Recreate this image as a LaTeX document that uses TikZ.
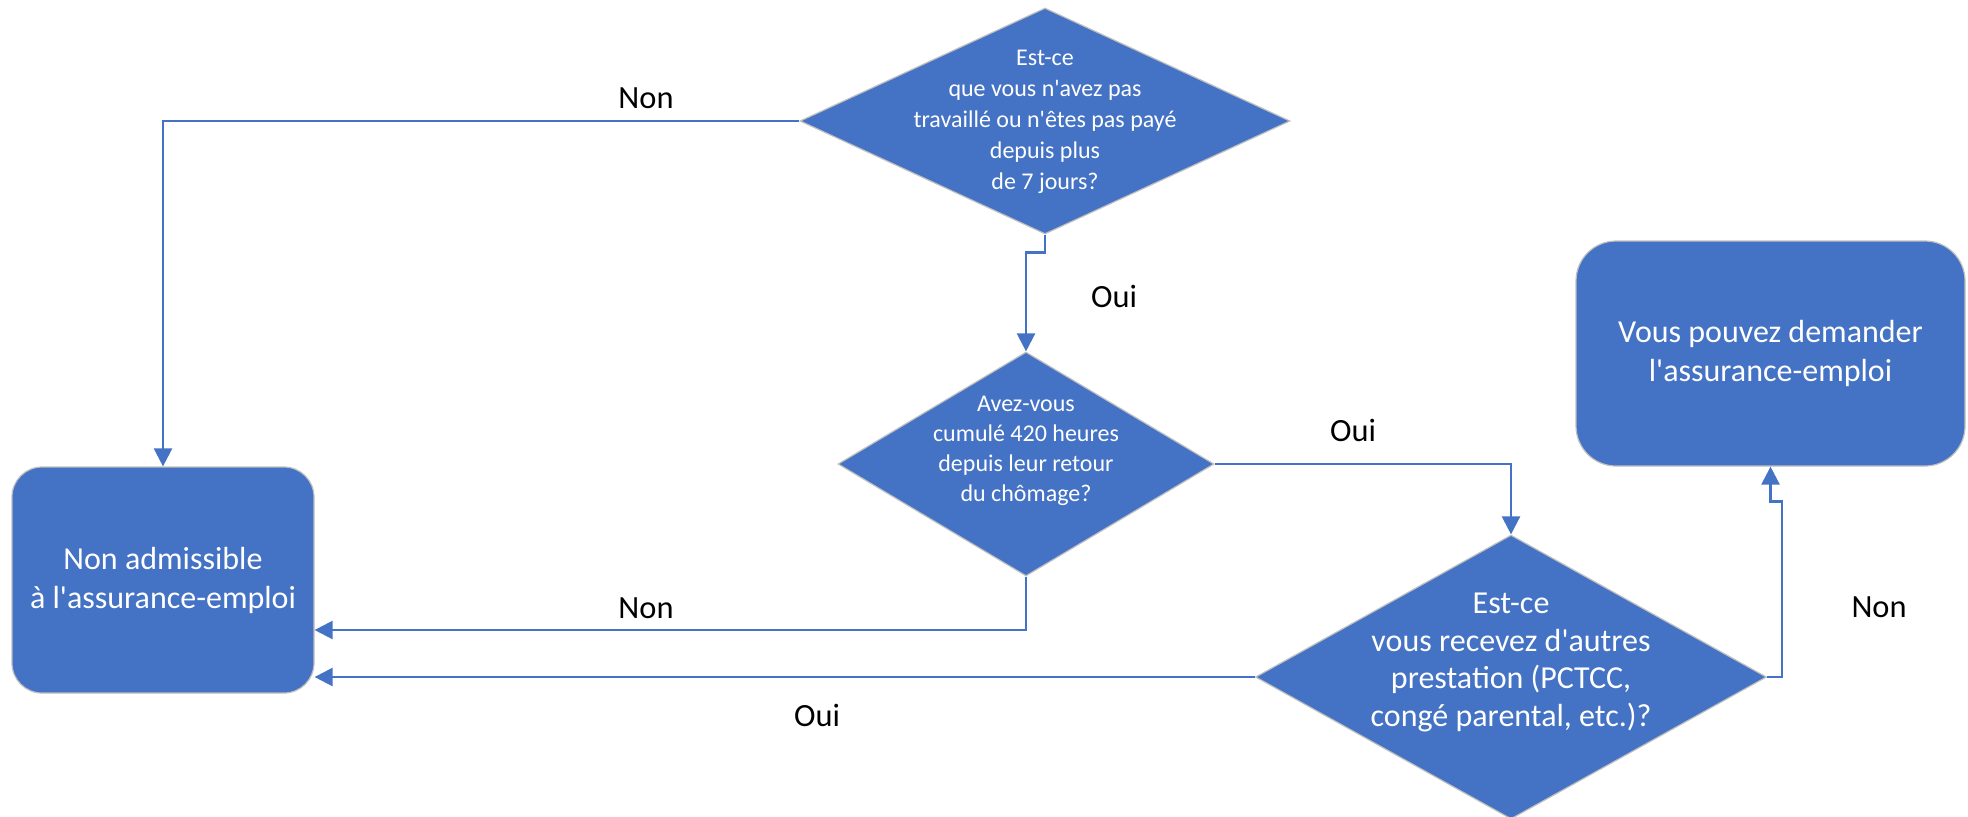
\documentclass[tikz,border=0pt]{standalone}
\usepackage{fontspec}
\setmainfont{Carlito}[Ligatures=TeXOff]
\usepackage{tikz}
\usetikzlibrary{shapes.geometric}
\usetikzlibrary{arrows.meta}

\definecolor{officeblue}{HTML}{4472C4}
\definecolor{shapeedge}{HTML}{BFBFBF}

% text of a decision, kept out of the size of the diamond
\newcommand{\qtext}[2][-0.25em]{\makebox[0pt]{\smash{\raisebox{#1}{\begin{tabular}{@{}c@{}}#2\end{tabular}}}}}

\begin{document}
\begin{tikzpicture}[x=0.5pt,y=0.5pt,yscale=-1,xscale=1,
  question/.style={diamond, fill=officeblue, draw=shapeedge, line width=0.6pt, inner sep=0pt, text=white},
  outcome/.style={rectangle, rounded corners=15pt, fill=officeblue, draw=shapeedge, line width=0.6pt, text=white, align=center, font=\fontsize{16}{19.5}\selectfont},
  link/.style={draw=officeblue, line width=1.2pt, -{Triangle[width=9pt,length=9pt]}},
  answer/.style={inner sep=0.75pt, font=\fontsize{16.2}{19}\selectfont}]
\path[use as bounding box] (0,0) rectangle (1968,816);

%Shape: Diamond [id:q1]
\node [question, minimum width=245pt, minimum height=113pt, font=\fontsize{12}{15.5}\selectfont] (q1) at (1045,121) {\qtext{Est-ce\\que vous n'avez pas\\travaillé ou n'êtes pas payé\\depuis plus\\de 7 jours?}};
%Shape: Diamond [id:q2]
\node [question, minimum width=188pt, minimum height=112pt, font=\fontsize{12}{15}\selectfont] (q2) at (1026,464) {\qtext[4pt]{Avez-vous\\cumulé 420 heures\\depuis leur retour\\du chômage?}};
%Shape: Diamond [id:q3]
\node [question, minimum width=255.5pt, minimum height=142pt, font=\fontsize{16}{18.8}\selectfont] (q3) at (1511,677) {\qtext[3pt]{Est-ce\\vous recevez d'autres\\prestation (PCTCC,\\congé parental, etc.)?}};

%Rounded Rect [id:inelig]
\node [outcome, minimum width=151pt, minimum height=113pt] (inelig) at (163,580) {Non admissible\\à l'assurance-emploi};
%Rounded Rect [id:elig]
\node [outcome, rounded corners=20pt, minimum width=194.5pt, minimum height=112.5pt] (elig) at (1770.5,353.5) {Vous pouvez demander\\l'assurance-emploi};

%Connectors
\draw [link] (q1.west) -| (inelig.north) ;
\draw [link] (q1.south) -- ++(0,18) -| (q2.north) ;
\draw [link] (q2.east) -| (q3.north) ;
\draw [link] (q2.south) |- ([yshift=25pt]inelig.east) ;
\draw [link] (q3.west) -- (inelig.east |- q3.west) ;
\draw [link] (q3.east) -- ++(15,0) |- ([yshift=17.5pt]elig.south) -- (elig.south) ;

% Text Node
\node [answer] (non1) at (646,98) {Non};
% Text Node
\node [answer] (oui1) at (1114,296) {Oui};
% Text Node
\node [answer] (oui2) at (1353,430) {Oui};
% Text Node
\node [answer] (non2) at (646,608) {Non};
% Text Node
\node [answer] (oui3) at (817,715) {Oui};
% Text Node
\node [answer] (non3) at (1879,607) {Non};

\end{tikzpicture}
\end{document}
